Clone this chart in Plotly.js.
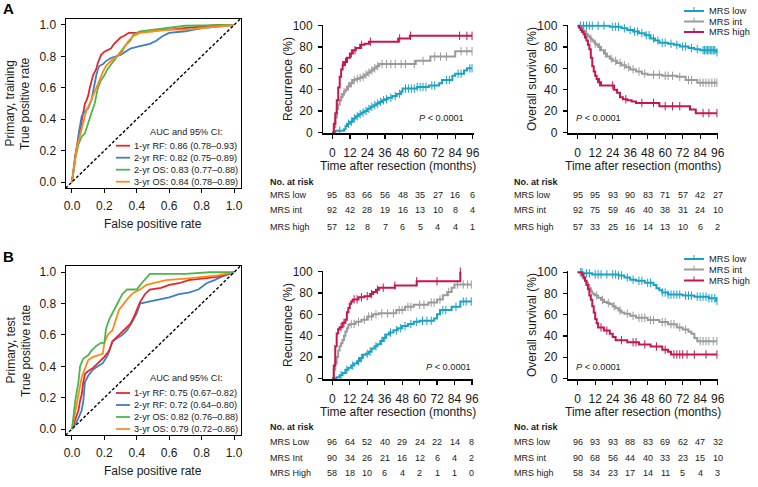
<!DOCTYPE html>
<html><head><meta charset="utf-8">
<script src="https://cdn.plot.ly/plotly-3.0.1.min.js"></script>
<style>html,body{margin:0;padding:0;background:#fff}#chart{width:758px;height:487px}</style>
</head><body><div id="chart"></div>
<script>
// ---------------- ROC data (panel A: primary, training) ----------------
const rocA_red_fpr = [0,0.01,0.02,0.03,0.04,0.05,0.06,0.07,0.08,0.09,0.10,0.11,0.12,0.13,0.14,0.15,0.16,0.17,0.18,0.20,0.22,0.24,0.26,0.28,0.30,0.32,0.35,0.40,0.45,0.50,0.55,0.60,0.70,0.80,0.90,1.0];
const rocA_red_tpr = [0,0.10,0.17,0.22,0.28,0.33,0.40,0.46,0.50,0.52,0.55,0.60,0.64,0.68,0.70,0.72,0.76,0.79,0.81,0.83,0.84,0.85,0.88,0.90,0.92,0.93,0.95,0.95,0.96,0.96,0.97,0.97,0.98,0.99,1.0,1.0];
const rocA_blue_fpr = [0,0.01,0.02,0.03,0.04,0.05,0.06,0.08,0.10,0.12,0.13,0.14,0.15,0.16,0.17,0.19,0.21,0.24,0.27,0.30,0.33,0.36,0.40,0.44,0.48,0.52,0.56,0.60,0.70,0.80,0.90,1.0];
const rocA_blue_tpr = [0,0.08,0.16,0.24,0.30,0.36,0.42,0.45,0.47,0.52,0.58,0.63,0.68,0.72,0.74,0.75,0.77,0.79,0.80,0.81,0.83,0.85,0.86,0.87,0.88,0.90,0.93,0.95,0.96,0.98,0.99,1.0];
const rocA_green_fpr = [0,0.02,0.04,0.06,0.08,0.10,0.12,0.14,0.16,0.18,0.20,0.22,0.25,0.28,0.30,0.33,0.36,0.38,0.42,0.50,0.60,0.70,1.0];
const rocA_green_tpr = [0,0.15,0.24,0.29,0.31,0.38,0.44,0.50,0.60,0.65,0.68,0.72,0.76,0.80,0.83,0.87,0.90,0.94,0.96,0.97,0.98,0.995,1.0];
const rocA_orange_fpr = [0,0.02,0.03,0.05,0.07,0.09,0.11,0.13,0.15,0.17,0.19,0.21,0.23,0.25,0.28,0.31,0.33,0.35,0.38,0.42,0.50,0.60,0.70,0.80,0.90,1.0];
const rocA_orange_tpr = [0,0.15,0.22,0.30,0.38,0.46,0.50,0.55,0.60,0.66,0.70,0.74,0.76,0.78,0.80,0.83,0.87,0.90,0.93,0.95,0.96,0.97,0.97,0.98,0.99,1.0];
const rocA_labels = ['1-yr RF: 0.86 (0.78–0.93)','2-yr RF: 0.82 (0.75–0.89)','2-yr OS: 0.83 (0.77–0.88)','3-yr OS: 0.84 (0.78–0.89)'];

// ---------------- ROC data (panel B: primary, test) ----------------
const rocB_red_fpr = [0,0.02,0.04,0.05,0.06,0.07,0.08,0.10,0.13,0.17,0.20,0.23,0.25,0.27,0.29,0.32,0.36,0.38,0.40,0.42,0.45,0.48,0.55,0.60,0.66,0.72,0.80,0.90,1.0];
const rocB_red_tpr = [0,0.06,0.12,0.18,0.22,0.30,0.35,0.37,0.39,0.43,0.46,0.50,0.56,0.58,0.60,0.63,0.67,0.71,0.76,0.81,0.86,0.89,0.90,0.92,0.93,0.95,0.96,0.97,1.0];
const rocB_blue_fpr = [0,0.02,0.04,0.06,0.07,0.08,0.10,0.13,0.16,0.19,0.22,0.25,0.28,0.31,0.34,0.37,0.40,0.42,0.46,0.50,0.55,0.60,0.66,0.72,0.78,0.83,0.88,0.92,1.0];
const rocB_blue_tpr = [0,0.03,0.07,0.12,0.18,0.30,0.34,0.38,0.40,0.42,0.47,0.56,0.58,0.60,0.63,0.68,0.74,0.80,0.81,0.82,0.83,0.84,0.86,0.87,0.89,0.93,0.95,0.97,1.0];
const rocB_green_fpr = [0,0.02,0.04,0.05,0.07,0.10,0.12,0.15,0.18,0.20,0.21,0.23,0.25,0.27,0.29,0.31,0.34,0.40,0.43,0.46,0.48,0.70,0.85,1.0];
const rocB_green_tpr = [0,0.18,0.30,0.40,0.45,0.47,0.50,0.53,0.55,0.55,0.64,0.70,0.74,0.78,0.82,0.86,0.89,0.89,0.93,0.97,0.99,0.99,1.0,1.0];
const rocB_orange_fpr = [0,0.02,0.04,0.06,0.08,0.10,0.13,0.16,0.19,0.20,0.22,0.25,0.27,0.29,0.32,0.35,0.38,0.42,0.46,0.50,0.58,0.70,0.80,0.90,1.0];
const rocB_orange_tpr = [0,0.10,0.22,0.33,0.38,0.44,0.46,0.47,0.48,0.55,0.60,0.63,0.70,0.76,0.80,0.84,0.87,0.89,0.92,0.93,0.95,0.96,0.97,0.98,1.0];
const rocB_labels = ['1-yr RF: 0.75 (0.67–0.82)','2-yr RF: 0.72 (0.64–0.80)','2-yr OS: 0.82 (0.76–0.88)','3-yr OS: 0.79 (0.72–0.86)'];

// ---------------- Kaplan-Meier: A recurrence ----------------
const recA_high_t = [0,1,2,3,4,5,6,7,8,10,12,14,16,19,22,25,45,53];
const recA_high_v = [0,8,18,30,42,52,59,63,66,70,74,77,79,82,83,85,88,90.5];
const recA_high_c = [7,9,13,15.5,20,26,46,53.5,87,92,95.5];
const recA_int_t = [0,1,2,3,4,5,6,7,8,9,10,12,14,16,18,20,22,24,26,28,30,32,57,67,84];
const recA_int_v = [0,5,14,22,26,30,33,36,38,40,43,46,49,50,51,52,54,56,58,60,62,64,67,71,76];
const recA_int_c = [6,8,11,13,15,17,19,21,23,25,27,29,31,34,37,40,43,47,50,56,62,70,74,78,88,92,95.5];
const recA_low_t = [0,2,8,9,10,12,14,16,18,20,22,24,26,28,30,32,34,36,38,41,44,47,48,58,66,73,75,82,84,90,92];
const recA_low_v = [0,1.5,3,6,8,10,13,15,17,18.5,20,22,24,25.5,27,28.5,30,31,32.5,34,36,38,41,42.5,44,46,49,53,55,58,60];
const recA_low_c = [5,11,13,15,17,19,21,23,25,27,29,31,33,35,37,40,43,46,50,52,54,56,58,60,62,64,68,70,78,80,86,88,94,95.5];

// ---------------- Kaplan-Meier: A overall survival ----------------
const osA_low_t = [0,22,30,34,38,42,46,50,53,56,62,66,70,76,80,84,95];
const osA_low_v = [100,99,97.5,96,94.5,93,91,88,86,84,83,82,80.5,79,78,77,75];
const osA_low_c = [2,4,6,8,10,14,18,24,26,28,32,36,39,41,44,47,49,52,55,58,60,64,68,72,74,78,82,86,87,88,89,90,91,92,93,94,95.5];
const osA_int_t = [0,1,2,3,4,5,6,7,8,9,10,11,12,13,14,16,18,20,22,24,27,30,33,36,40,44,48,58,68,74,82];
const osA_int_v = [100,99,98,97,95,93,92,90.5,89,87.5,86,84.5,83,82,80,77,74,71,69,67,65,63,61,59,57,55,54,53,52,49,46.5];
const osA_int_c = [6,9,12,15,19,23,26,29,32,35,38,42,46,52,56,60,62,65,70,76,78,84,86,88,90,92,94,95.5];
const osA_high_t = [0,1,2,3,4,5,6,7,8,9,10,11,12,13,14,16,25,27,29,31,34,37,40,56,77,81];
const osA_high_v = [100,98,96,94,92,89,86,82,78,70,62,57,53,50,47,44,40,37,33,31,30,29,27.5,24.5,21.5,18];
const osA_high_c = [15,24,33,44,52,60,65,70,86,90,95.5];

// ---------------- Kaplan-Meier: B recurrence ----------------
const recB_high_t = [0,1,2,3,4,5,7,9,10,11,12,13,14,18,22,26,28,30,32,43,58,88];
const recB_high_v = [0,12,30,42,46,48,52,55,62,66,70,72,74,76,77,79,81,83,85,87,91,100];
const recB_high_c = [6,8,15,17,20,24,27,31,35,43,58,72,88];
const recB_int_t = [0,1,2,3,4,5,6,7,8,9,10,11,12,16,20,24,28,32,44,50,56,66,72,76,79,82,84];
const recB_int_v = [0,8,14,20,26,30,33,36,40,44,47,50,51,53,55,58,60,61,64,67,69,71,74,78,81,85,88];
const recB_int_c = [13,15,18,22,25,27,30,34,38,42,46,48,52,54,60,63,68,70,74,80,86,90,93,95.5];
const recB_low_t = [0,3,5,7,9,11,13,15,17,19,21,23,25,27,29,31,33,35,37,39,42,45,48,52,56,60,70,72,74,82,88];
const recB_low_v = [0,1,3,5,8,10,12,14,16,19,22,23,25,28,30,32,35,38,41,43,45,47,49,51,53,54,56,60,64,67,72];
const recB_low_c = [6,10,14,18,20,24,26,30,34,36,40,44,47,50,54,58,62,65,68,76,78,85,90,92,95.5];

// ---------------- Kaplan-Meier: B overall survival ----------------
const osB_low_t = [0,4,10,28,32,36,40,46,52,54,56,58,62,72,80,90,95];
const osB_low_v = [100,99,98,97,95,93,92,90,88,85,83,81,79,78,77,75.5,73];
const osB_low_c = [2,3,6,8,12,14,16,20,24,26,28,30,34,38,42,44,48,50,58,60,62,64,66,68,70,74,76,78,82,84,86,88,90,92,94,95.5];
const osB_int_t = [0,2,3,4,5,6,7,8,9,10,11,12,14,16,18,20,22,24,26,28,30,32,36,40,48,56,62,68,72,76,78,80,82];
const osB_int_v = [100,98,96,94,92,90,88,85,82,80,79,78,76,74,72,71,70,68,66,64,62,61,59,57,55,53,51,48,46,44,42,38,35];
const osB_int_c = [13,17,21,25,29,34,38,42,44,46,50,52,58,60,64,66,70,74,84,86,88,90,93,95.5];
const osB_high_t = [0,3,4,5,6,7,8,9,10,11,12,13,14,18,22,24,26,34,42,50,58,62,64];
const osB_high_v = [100,98,95,92,88,84,78,74,68,62,56,52,48,45,42,39,36,34,32,30,27,25,22.5];
const osB_high_c = [16,20,30,38,40,46,54,60,66,68,70,72,75,80,88,95.5];

// ---------------- Numbers at risk ----------------
const riskTimes = [0,12,24,36,48,60,72,84,96];
const recA_rows = ['MRS low','MRS int','MRS high'];
const recA_risk = [[95,83,66,56,48,35,27,16,6],[92,42,28,19,16,13,10,8,4],[57,12,8,7,6,5,4,4,1]];
const osA_rows = ['MRS low','MRS int','MRS high'];
const osA_risk = [[95,95,93,90,83,71,57,42,27],[92,75,59,46,40,38,31,24,10],[57,33,25,16,14,13,10,6,2]];
const recB_rows = ['MRS Low','MRS Int','MRS High'];
const recB_risk = [[96,64,52,40,29,24,22,14,8],[90,34,26,21,16,12,6,4,2],[58,18,10,6,4,2,1,1,0]];
const osB_rows = ['MRS low','MRS int','MRS high'];
const osB_risk = [[96,93,93,88,83,69,62,47,32],[90,68,56,44,40,33,23,15,10],[58,34,23,17,14,11,5,4,3]];
const kmLegend = ['MRS low','MRS int','MRS high'];

// ---------------- styling ----------------
const W = 758, H = 487;
const FONT = 'Liberation Sans, Arial, Helvetica, sans-serif';
const TXT = '#1a1a1a';
const C_LOW = '#1aa2c4', C_INT = '#9a9a9a', C_HIGH = '#c5164e';
const C_ROC = ['#e8252b', '#3d7fc6', '#4cb748', '#ff8a1c'];
const PX = x => x / W, PY = y => 1 - y / H;

function stepAt(t, v, x) { let y = v[0]; for (let i = 0; i < t.length; i++) { if (t[i] <= x) y = v[i]; else break; } return y; }

const traces = [];
function roc(fpr, tpr, color, xa, ya) {
  traces.push({x: fpr, y: tpr, type: 'scatter', mode: 'lines', line: {color: color, width: 1.8}, xaxis: xa, yaxis: ya, hoverinfo: 'skip'});
}
function km(t, v, c, color, xa, ya) {
  const xs = t.slice(), ys = v.slice();
  const last = Math.max.apply(null, c);
  if (last > t[t.length - 1]) { xs.push(last); ys.push(v[v.length - 1]); }
  traces.push({x: xs, y: ys, type: 'scatter', mode: 'lines', line: {shape: 'hv', color: color, width: 2}, xaxis: xa, yaxis: ya, hoverinfo: 'skip'});
  traces.push({x: c, y: c.map(x => stepAt(t, v, x)), type: 'scatter', mode: 'markers', cliponaxis: false,
    marker: {symbol: 'line-ns', size: 6, color: color, line: {color: color, width: 1}}, xaxis: xa, yaxis: ya, hoverinfo: 'skip'});
}

roc(rocA_red_fpr, rocA_red_tpr, C_ROC[0], 'x', 'y');
roc(rocA_blue_fpr, rocA_blue_tpr, C_ROC[1], 'x', 'y');
roc(rocA_green_fpr, rocA_green_tpr, C_ROC[2], 'x', 'y');
roc(rocA_orange_fpr, rocA_orange_tpr, C_ROC[3], 'x', 'y');
km(recA_low_t, recA_low_v, recA_low_c, C_LOW, 'x2', 'y2');
km(recA_int_t, recA_int_v, recA_int_c, C_INT, 'x2', 'y2');
km(recA_high_t, recA_high_v, recA_high_c, C_HIGH, 'x2', 'y2');
km(osA_low_t, osA_low_v, osA_low_c, C_LOW, 'x3', 'y3');
km(osA_int_t, osA_int_v, osA_int_c, C_INT, 'x3', 'y3');
km(osA_high_t, osA_high_v, osA_high_c, C_HIGH, 'x3', 'y3');
roc(rocB_blue_fpr, rocB_blue_tpr, C_ROC[1], 'x4', 'y4');
roc(rocB_red_fpr, rocB_red_tpr, C_ROC[0], 'x4', 'y4');
roc(rocB_orange_fpr, rocB_orange_tpr, C_ROC[3], 'x4', 'y4');
roc(rocB_green_fpr, rocB_green_tpr, C_ROC[2], 'x4', 'y4');
km(recB_low_t, recB_low_v, recB_low_c, C_LOW, 'x5', 'y5');
km(recB_int_t, recB_int_v, recB_int_c, C_INT, 'x5', 'y5');
km(recB_high_t, recB_high_v, recB_high_c, C_HIGH, 'x5', 'y5');
km(osB_low_t, osB_low_v, osB_low_c, C_LOW, 'x6', 'y6');
km(osB_int_t, osB_int_v, osB_int_c, C_INT, 'x6', 'y6');
km(osB_high_t, osB_high_v, osB_high_c, C_HIGH, 'x6', 'y6');

// ---------------- axes ----------------
function rocAxis(domain, anchor) {
  return {domain: domain, anchor: anchor, range: [-0.04, 1.04], tickvals: [0,0.2,0.4,0.6,0.8,1], tickformat: '.1f',
    showline: true, mirror: true, linecolor: '#000', linewidth: 1, ticks: 'outside', ticklen: 4, tickwidth: 1, tickcolor: '#000',
    showgrid: false, zeroline: false, tickfont: {size: 12, color: TXT, family: FONT}, ticklabelstandoff: 2};
}
function kmX(domain, anchor, r) {
  return {domain: domain, anchor: anchor, range: r, tickvals: riskTimes, showline: true, linecolor: '#000', linewidth: 1.2,
    ticks: 'outside', ticklen: 4, tickwidth: 1.2, tickcolor: '#000', showgrid: false, zeroline: false,
    tickfont: {size: 12, color: TXT, family: FONT}, ticklabelstandoff: 4};
}
function kmY(domain, anchor) {
  return {domain: domain, anchor: anchor, range: [-1, 101], tickvals: [0,20,40,60,80,100], showline: true, linecolor: '#000', linewidth: 1.2,
    ticks: 'outside', ticklen: 4, tickwidth: 1.2, tickcolor: '#000', showgrid: false, zeroline: false,
    tickfont: {size: 12, color: TXT, family: FONT}, ticklabelstandoff: 3};
}

const rocXdom = [PX(65.5), PX(240.5)];
const recXdomA = [PX(323.3), PX(473.5)], recXdomB = [PX(323.3), PX(472.7)];
const osXdom = [PX(568), PX(718.4)];
const layout = {
  width: W, height: H, margin: {l: 0, r: 0, t: 0, b: 0}, paper_bgcolor: '#fff', plot_bgcolor: 'rgba(0,0,0,0)',
  showlegend: false, hovermode: false, font: {family: FONT, color: TXT},
  xaxis: rocAxis(rocXdom, 'y'), yaxis: rocAxis([PY(188.3), PY(18.7)], 'x'),
  xaxis2: kmX(recXdomA, 'y2', [-6.2, 96.5]), yaxis2: kmY([PY(133.4), PY(24.6)], 'x2'),
  xaxis3: kmX(osXdom, 'y3', [-6.65, 96.5]), yaxis3: kmY([PY(133.4), PY(24.6)], 'x3'),
  xaxis4: rocAxis(rocXdom, 'y4'), yaxis4: rocAxis([PY(435.3), PY(266)], 'x4'),
  xaxis5: kmX(recXdomB, 'y5', [-6.2, 96.5]), yaxis5: kmY([PY(379.4), PY(270.6)], 'x5'),
  xaxis6: kmX(osXdom, 'y6', [-6.65, 96.5]), yaxis6: kmY([PY(379.4), PY(271.2)], 'x6'),
  shapes: [], annotations: []
};

// diagonal reference lines in ROC panels
[['x','y'],['x4','y4']].forEach(([xa, ya]) => {
  layout.shapes.push({type: 'line', xref: xa, yref: ya, x0: -0.04, y0: -0.04, x1: 1.04, y1: 1.04, line: {color: '#000', width: 1.4, dash: '3px,2px'}});
});

function ann(text, x, y, opt) {
  layout.annotations.push(Object.assign({text: text, x: PX(x), y: PY(y), xref: 'paper', yref: 'paper', showarrow: false,
    xanchor: 'center', yanchor: 'middle', borderpad: 0, font: {size: 12, color: TXT, family: FONT}}, opt || {}));
}

// panel letters
ann('<b>A</b>', 8.5, 8.5, {font: {size: 15, color: '#000', family: FONT}});
ann('<b>B</b>', 8.5, 256, {font: {size: 15, color: '#000', family: FONT}});

// ROC titles
ann('Primary, training', 10, 103.5, {textangle: -90});
ann('True positive rate', 25.5, 103.5, {textangle: -90});
ann('False positive rate', 153, 223.5);
ann('Primary, test', 10, 350.5, {textangle: -90});
ann('True positive rate', 25.5, 350.5, {textangle: -90});
ann('False positive rate', 153, 471);

// ROC legends
function rocLegend(labels, headY, rowYs) {
  ann('AUC and 95% CI:', 186.5, headY, {font: {size: 9.2, color: TXT, family: FONT}});
  labels.forEach((lab, i) => {
    layout.shapes.push({type: 'line', xref: 'paper', yref: 'paper', x0: PX(116), x1: PX(130), y0: PY(rowYs[i]), y1: PY(rowYs[i]), line: {color: C_ROC[i], width: 1.8}});
    ann(lab, 133, rowYs[i], {xanchor: 'left', font: {size: 9.2, color: TXT, family: FONT}});
  });
}
rocLegend(rocA_labels, 132, [145.7, 157.7, 169.7, 181.7]);
rocLegend(rocB_labels, 378, [393, 405, 417, 429]);

// KM titles
ann('Recurrence (%)', 288, 79, {textangle: -90});
ann('Recurrence (%)', 288, 325, {textangle: -90});
ann('Overall survival (%)', 532, 79, {textangle: -90});
ann('Overall survival (%)', 532, 325, {textangle: -90});
ann('Time after resection (months)', 398.3, 165.7);
ann('Time after resection (months)', 398.3, 411.7);
ann('Time after resection (months)', 642.7, 165.7);
ann('Time after resection (months)', 642.7, 411.7);

// P values
const pFont = {size: 9.2, color: TXT, family: FONT};
ann('<i>P</i> < 0.0001', 465, 118, {xanchor: 'right', font: pFont});
ann('<i>P</i> < 0.0001', 575, 118, {xanchor: 'left', font: pFont});
ann('<i>P</i> < 0.0001', 471.5, 366.7, {xanchor: 'right', font: pFont});
ann('<i>P</i> < 0.0001', 575, 366.7, {xanchor: 'left', font: pFont});

// KM legends
function kmLeg(ys) {
  [C_LOW, C_INT, C_HIGH].forEach((col, i) => {
    layout.shapes.push({type: 'line', xref: 'paper', yref: 'paper', x0: PX(684), x1: PX(704), y0: PY(ys[i]), y1: PY(ys[i]), line: {color: col, width: 2}});
    layout.shapes.push({type: 'line', xref: 'paper', yref: 'paper', x0: PX(694), x1: PX(694), y0: PY(ys[i]), y1: PY(ys[i] - 4), line: {color: col, width: 1}});
    ann(kmLegend[i], 708, ys[i], {xanchor: 'left', font: {size: 9.3, color: TXT, family: FONT}});
  });
}
kmLeg([11, 21.5, 32]);
kmLeg([259, 269.5, 280.5]);

// number-at-risk tables
function riskTable(xref, leftX, headY, rowYs, rows, vals) {
  ann('<b>No. at risk</b>', leftX, headY, {xanchor: 'left', font: {size: 9, color: TXT, family: FONT}});
  rows.forEach((r, i) => {
    ann(r, leftX, rowYs[i], {xanchor: 'left', font: {size: 9, color: TXT, family: FONT}});
    vals[i].forEach((n, j) => {
      layout.annotations.push({text: String(n), x: riskTimes[j], xref: xref, y: PY(rowYs[i]), yref: 'paper', showarrow: false,
        xanchor: 'center', yanchor: 'middle', borderpad: 0, font: {size: 9, color: TXT, family: FONT}});
    });
  });
}
riskTable('x2', 269, 181.7, [194.5, 210.5, 226.5], recA_rows, recA_risk);
riskTable('x3', 513, 181.7, [194.5, 210.5, 226.5], osA_rows, osA_risk);
riskTable('x5', 269, 427.3, [442, 457.5, 473], recB_rows, recB_risk);
riskTable('x6', 513, 427.3, [442, 457.5, 473], osB_rows, osB_risk);

Plotly.newPlot('chart', traces, layout, {staticPlot: true, displayModeBar: false});
</script>
</body></html>
